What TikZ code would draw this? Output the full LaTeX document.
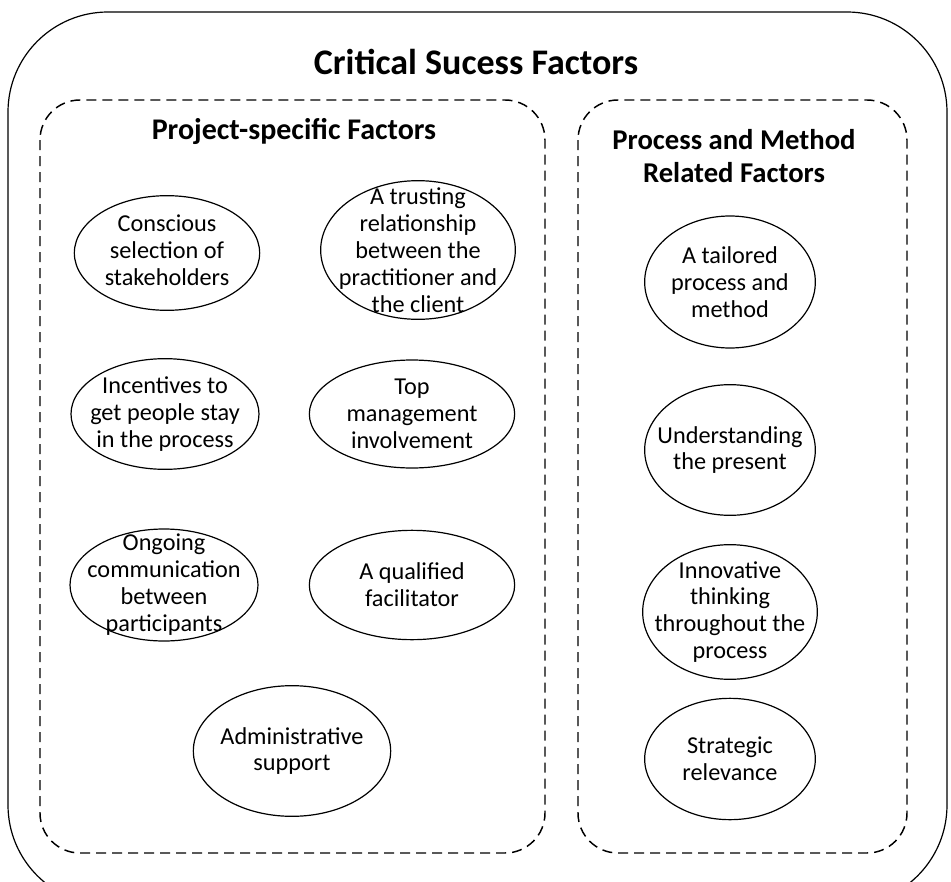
\documentclass[tikz,border=0pt]{standalone}
\usepackage{fontspec}
\setmainfont{Carlito}
\usetikzlibrary{shapes.geometric}
\begin{document}
\begin{tikzpicture}[x=0.75pt,y=-0.75pt,
  outerbox/.style={draw=black,line width=0.9pt,rounded corners=75pt},
  groupbox/.style={draw=black,line width=1.1pt,dash pattern=on 7.5pt off 4.5pt,rounded corners=30pt},
  factor/.style={draw=black,line width=0.9pt,ellipse,inner sep=0pt},
  factortext/.style={inner sep=0pt,align=center,font=\fontsize{18.2}{20.2}\selectfont},
  titletext/.style={font=\fontsize{27}{32}\selectfont\bfseries},
  headtext/.style={font=\fontsize{22.5}{25}\selectfont\bfseries,align=center}]
\useasboundingbox (0,0) rectangle (951,882);
\begin{scope}
\clip (0,0) rectangle (951,882);
\draw[outerbox] (8,12) rectangle (947,905);
\end{scope}
\node[titletext] (title) at (476,62) {Critical Sucess Factors};
\draw[groupbox] (40,100) rectangle (545,853);
\draw[groupbox] (578,100) rectangle (907,853);
\node[headtext] (h1) at (294,131) {Project-specific Factors};
\node[headtext,font=\fontsize{21.5}{25}\selectfont\bfseries] (h2) at (734,156) {Process and Method\\Related Factors};
% ellipses
\node[factor,minimum width=139pt,minimum height=86pt] (c1) at (167,253) {};
\node[factor,minimum width=146pt,minimum height=104pt] (c2) at (418,250) {};
\node[factor,minimum width=141pt,minimum height=83pt] (c3) at (165,414) {};
\node[factor,minimum width=154pt,minimum height=81pt] (c4) at (412,414) {};
\node[factor,minimum width=141pt,minimum height=84pt] (c5) at (164,585) {};
\node[factor,minimum width=154pt,minimum height=82pt] (c6) at (412,585) {};
\node[factor,minimum width=148pt,minimum height=98pt] (c7) at (292,751) {};
\node[factor,minimum width=128pt,minimum height=99pt] (r1) at (730,282) {};
\node[factor,minimum width=128pt,minimum height=98pt] (r2) at (730,450) {};
\node[factor,minimum width=131pt,minimum height=101pt] (r3) at (730,612) {};
\node[factor,minimum width=128pt,minimum height=91pt] (r4) at (730,759) {};
% texts
\node[factortext] (c1t) at ([yshift=2pt]c1) {Conscious\\selection of\\stakeholders};
\node[factortext] (c2t) at (c2) {A trusting\\relationship\\between the\\practitioner and\\the client};
\node[factortext] (c3t) at (c3) {Incentives to\\get people stay\\in the process};
\node[factortext] (c4t) at (c4) {Top\\management\\involvement};
\node[factortext] (c5t) at (c5) {Ongoing\\communication\\between\\participants};
\node[factortext] (c6t) at (c6) {A qualified\\facilitator};
\node[factortext] (c7t) at (c7) {Administrative\\support};
\node[factortext] (r1t) at (r1) {A tailored\\process and\\method};
\node[factortext] (r2t) at (r2) {Understanding\\the present};
\node[factortext] (r3t) at (r3) {Innovative\\thinking\\throughout the\\process};
\node[factortext] (r4t) at (r4) {Strategic\\relevance};
\end{tikzpicture}
\end{document}
